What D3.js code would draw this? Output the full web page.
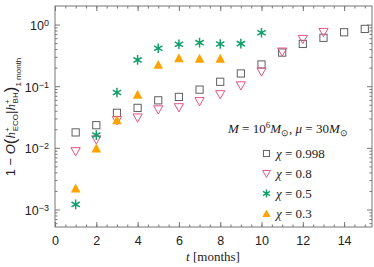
<!DOCTYPE html>
<html>
<head>
<meta charset="utf-8">
<script src="https://cdn.jsdelivr.net/npm/d3@7"></script>
<style>
  body { margin: 0; background: #fff; }
  svg { display: block; }
  .tick text { font-family: "Liberation Sans", Arial, sans-serif; font-size: 12.5px; fill: #222; }
  .serif { font-family: "Liberation Serif", "Times New Roman", serif; fill: #222; }
</style>
</head>
<body>
<div id="chart"></div>
<script>
var months = [1, 2, 3, 4, 5, 6, 7, 8, 9, 10, 11, 12, 13, 14, 15];
var chi0998 = [0.0178, 0.0233, 0.037, 0.0445, 0.059, 0.067, 0.088, 0.118, 0.161, 0.225, 0.351, 0.485, 0.61, 0.75, 0.85];
var chi08 = [0.0088, 0.0137, 0.028, 0.031, 0.042, 0.0455, 0.057, 0.074, 0.103, 0.173, 0.364, 0.583, 0.757];
var chi05 = [0.00121, 0.0161, 0.079, 0.267, 0.413, 0.479, 0.509, 0.485, 0.49, 0.738];
var chi03 = [0.0022, 0.0098, 0.0281, 0.073, 0.222, 0.285, 0.28, 0.28];
var legendLabels = ["0.998", "0.8", "0.5", "0.3"];
var xTicks = [0, 2, 4, 6, 8, 10, 12, 14];
var yTicks = [1e-3, 1e-2, 1e-1, 1];

var width = 374, height = 267;
var margin = {top: 6, right: 2, bottom: 40, left: 55};

var svg = d3.select("#chart").append("svg")
  .attr("width", width)
  .attr("height", height);

var x = d3.scaleLinear().domain([0, 15.35]).range([margin.left, width - margin.right]);
var y = d3.scaleLog().domain([5.2e-4, 2.0]).range([height - margin.bottom, margin.top]);

var frameColor = "#777";

// minor ticks
var xMinor = d3.range(0, 15.5, 0.5);
var yMinor = [];
[1e-4, 1e-3, 1e-2, 1e-1, 1].forEach(function(d) {
  for (var k = 2; k <= 9; k++) {
    var v = d * k;
    if (v > y.domain()[0] && v < y.domain()[1]) yMinor.push(v);
  }
});

function styleAxis(g) {
  g.select(".domain").remove();
  g.selectAll(".tick line").attr("stroke", frameColor);
}

// bottom
svg.append("g")
  .attr("transform", "translate(0," + y.range()[0] + ")")
  .call(d3.axisBottom(x).tickValues(xMinor).tickSize(-2.5).tickFormat(""))
  .call(styleAxis);
svg.append("g")
  .attr("transform", "translate(0," + y.range()[0] + ")")
  .call(d3.axisBottom(x).tickValues(xTicks).tickSize(-5).tickPadding(9).tickFormat(d3.format("d")))
  .call(styleAxis);
// top
svg.append("g")
  .attr("transform", "translate(0," + y.range()[1] + ")")
  .call(d3.axisTop(x).tickValues(xMinor).tickSize(-2.5).tickFormat(""))
  .call(styleAxis);
svg.append("g")
  .attr("transform", "translate(0," + y.range()[1] + ")")
  .call(d3.axisTop(x).tickValues(xTicks).tickSize(-5).tickFormat(""))
  .call(styleAxis);
// left
svg.append("g")
  .attr("transform", "translate(" + x.range()[0] + ",0)")
  .call(d3.axisLeft(y).tickValues(yMinor).tickSize(-2.5).tickFormat(""))
  .call(styleAxis);
var yAxisG = svg.append("g")
  .attr("transform", "translate(" + x.range()[0] + ",0)")
  .call(d3.axisLeft(y).tickValues(yTicks).tickSize(-5).tickPadding(6).tickFormat(""))
  .call(styleAxis);
yAxisG.selectAll(".tick text").each(function(d) {
  var t = d3.select(this);
  t.text("10").attr("dy", "0.4em");
  t.append("tspan").attr("dy", "-0.45em").attr("font-size", "9px").text(String(Math.round(Math.log10(d))).replace("-", "\u2212"));
});
// right
svg.append("g")
  .attr("transform", "translate(" + x.range()[1] + ",0)")
  .call(d3.axisRight(y).tickValues(yMinor).tickSize(-2.5).tickFormat(""))
  .call(styleAxis);
svg.append("g")
  .attr("transform", "translate(" + x.range()[1] + ",0)")
  .call(d3.axisRight(y).tickValues(yTicks).tickSize(-5).tickFormat(""))
  .call(styleAxis);

// frame
svg.append("rect")
  .attr("x", x.range()[0]).attr("y", y.range()[1])
  .attr("width", x.range()[1] - x.range()[0])
  .attr("height", y.range()[0] - y.range()[1])
  .attr("fill", "none").attr("stroke", frameColor).attr("stroke-width", 1);

// marker symbols
var colors = {sq: "#606060", tri: "#e4557f", star: "#13a06a", up: "#ffa300"};
function drawSquare(g, cx, cy, s) {
  var h = 3.6 * s;
  g.append("rect").attr("x", cx - h).attr("y", cy - h).attr("width", 2 * h).attr("height", 2 * h)
    .attr("fill", "none").attr("stroke", colors.sq).attr("stroke-width", 1);
}
function drawDown(g, cx, cy, s) {
  var w = 4.6 * s;
  g.append("path").attr("d", "M" + (cx - w) + "," + (cy - 3.6 * s) + "L" + (cx + w) + "," + (cy - 3.6 * s) + "L" + cx + "," + (cy + 4.6 * s) + "Z")
    .attr("fill", "none").attr("stroke", colors.tri).attr("stroke-width", 1);
}
function drawStar(g, cx, cy, s) {
  var r = 4.8 * s, p = "";
  for (var i = 0; i < 3; i++) {
    var a = Math.PI / 2 + i * Math.PI / 3;
    p += "M" + (cx + r * Math.cos(a)) + "," + (cy + r * Math.sin(a)) + "L" + (cx - r * Math.cos(a)) + "," + (cy - r * Math.sin(a));
  }
  g.append("path").attr("d", p).attr("stroke", colors.star).attr("stroke-width", 1.5).attr("fill", "none");
  g.append("circle").attr("cx", cx).attr("cy", cy).attr("r", 1.6 * s).attr("fill", colors.star);
}
function drawUp(g, cx, cy, s) {
  var w = 4.8 * s;
  g.append("path").attr("d", "M" + (cx - w) + "," + (cy + 4 * s) + "L" + (cx + w) + "," + (cy + 4 * s) + "L" + cx + "," + (cy - 4.8 * s) + "Z")
    .attr("fill", colors.up);
}

var series = [
  {vals: chi0998, draw: drawSquare},
  {vals: chi08, draw: drawDown},
  {vals: chi05, draw: drawStar},
  {vals: chi03, draw: drawUp}
];

var pts = svg.append("g");
series.forEach(function(s) {
  s.vals.forEach(function(v, i) {
    s.draw(pts, x(months[i]), y(v), 1);
  });
});

// annotation
var ann = svg.append("text").attr("class", "serif").attr("x", 228).attr("y", 133).attr("font-size", "13px");
ann.append("tspan").attr("font-style", "italic").text("M");
ann.append("tspan").text(" = 10");
ann.append("tspan").attr("dy", "-5").attr("font-size", "9px").text("6");
ann.append("tspan").attr("dy", "5").attr("font-style", "italic").text("M");
ann.append("tspan").attr("dy", "3").attr("font-size", "9px").text("\u2299");
ann.append("tspan").attr("dy", "-3").text(",  ");
ann.append("tspan").attr("font-style", "italic").text("\u03bc");
ann.append("tspan").text(" = 30");
ann.append("tspan").attr("font-style", "italic").text("M");
ann.append("tspan").attr("dy", "3").attr("font-size", "9px").text("\u2299");

// legend
var legend = svg.append("g");
legendLabels.forEach(function(lab, i) {
  var ly = 153.5 + i * 20;
  series[i].draw(legend, 266.5, ly, 0.85);
  var t = legend.append("text").attr("class", "serif").attr("x", 276).attr("y", ly + 4.5).attr("font-size", "13px");
  t.append("tspan").attr("font-style", "italic").text("\u03c7");
  t.append("tspan").text(" = " + lab);
});

// x label
var xl = svg.append("text").attr("class", "serif").attr("x", 213).attr("y", 261)
  .attr("text-anchor", "middle").attr("font-size", "13px");
xl.append("tspan").attr("font-style", "italic").text("t");
xl.append("tspan").text(" [months]");

// y label
var yl = svg.append("text").attr("transform", "translate(15,117) rotate(-90)")
  .attr("text-anchor", "middle").attr("font-size", "13px")
  .attr("font-family", "'Liberation Sans', Arial, sans-serif").attr("fill", "#222");
yl.append("tspan").text("1 \u2212 ");
yl.append("tspan").attr("font-style", "italic").text("O");
yl.append("tspan").attr("font-size", "17px").attr("dy", "1").text("(");
yl.append("tspan").attr("font-style", "italic").attr("font-family", "'Liberation Serif', serif").attr("dy", "-1").text("h");
yl.append("tspan").attr("font-size", "8px").attr("dy", "-5").text("+");
yl.append("tspan").attr("font-size", "8px").attr("dy", "8").attr("dx", "-4").text("ECO");
yl.append("tspan").attr("dy", "-3").text("|");
yl.append("tspan").attr("font-style", "italic").attr("font-family", "'Liberation Serif', serif").text("h");
yl.append("tspan").attr("font-size", "8px").attr("dy", "-5").text("+");
yl.append("tspan").attr("font-size", "8px").attr("dy", "8").attr("dx", "-4").text("BH");
yl.append("tspan").attr("font-size", "17px").attr("dy", "-2").text(")");
yl.append("tspan").attr("font-size", "8px").attr("dy", "5").text("1 month");
</script>
</body>
</html>
